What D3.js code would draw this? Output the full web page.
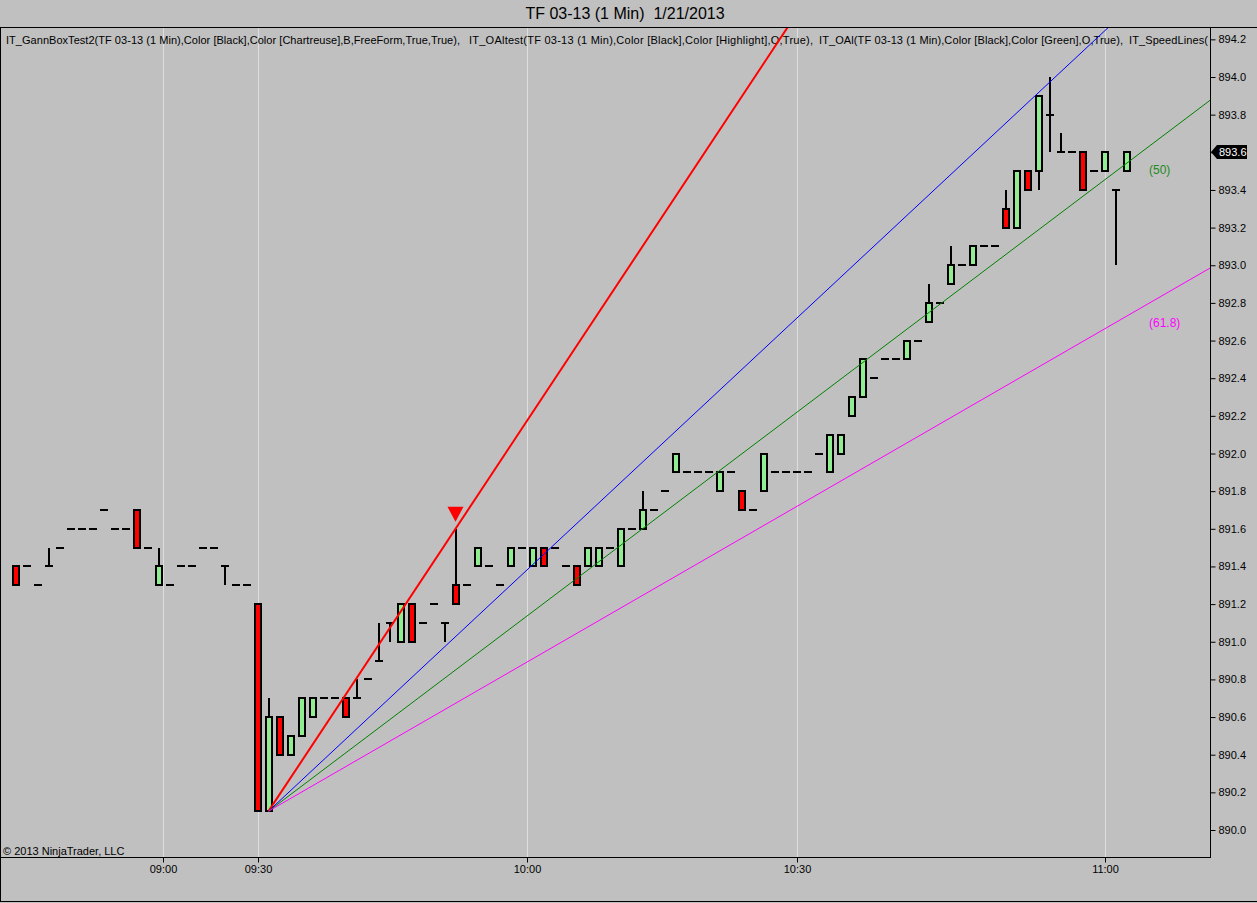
<!DOCTYPE html>
<html><head><meta charset="utf-8">
<script src="https://cdn.jsdelivr.net/npm/d3@7"></script>
<style>
body{margin:0;background:#c0c0c0;}
svg{display:block;font-family:Arial,"Liberation Sans",sans-serif;}
.pre{white-space:pre;}
</style></head><body>
<script>
// ---- data (1-minute bars, TF 03-13, 1/21/2013) ----
const opens  = [891.4,891.4,891.3,891.4,891.5,891.6,891.6,891.6,891.7,891.6,891.6,891.7,891.5,891.3,891.3,891.4,891.4,891.5,891.5,891.4,891.3,891.3,891.2,890.1,890.6,890.4,890.5,890.6,890.7,890.7,890.7,890.7,890.8,890.9,891.1,891.0,891.2,891.1,891.2,891.1,891.3,891.3,891.4,891.4,891.3,891.4,891.5,891.4,891.5,891.5,891.4,891.4,891.4,891.4,891.5,891.4,891.6,891.6,891.7,891.8,891.9,891.9,891.9,891.9,891.8,891.9,891.8,891.7,891.8,891.9,891.9,891.9,891.9,892.0,891.9,892.0,892.2,892.3,892.4,892.5,892.5,892.5,892.6,892.7,892.8,892.9,893.0,893.0,893.1,893.1,893.3,893.2,893.5,893.5,893.8,893.6,893.6,893.6,893.5,893.5,893.4,893.5];
const highs  = [891.4,891.4,891.3,891.5,891.5,891.6,891.6,891.6,891.7,891.6,891.6,891.7,891.5,891.5,891.3,891.4,891.4,891.5,891.5,891.4,891.3,891.3,891.2,890.7,890.6,890.5,890.7,890.7,890.7,890.7,890.7,890.8,890.8,891.1,891.1,891.2,891.2,891.1,891.2,891.1,891.6,891.3,891.5,891.4,891.3,891.5,891.5,891.5,891.5,891.5,891.4,891.4,891.5,891.5,891.5,891.6,891.6,891.8,891.7,891.8,892.0,891.9,891.9,891.9,891.9,891.9,891.8,891.7,892.0,891.9,891.9,891.9,891.9,892.0,892.1,892.1,892.3,892.5,892.4,892.5,892.5,892.6,892.6,892.9,892.8,893.1,893.0,893.1,893.1,893.1,893.4,893.5,893.5,893.9,894.0,893.7,893.6,893.6,893.5,893.6,893.4,893.6];
const lows   = [891.3,891.4,891.3,891.4,891.5,891.6,891.6,891.6,891.7,891.6,891.6,891.5,891.5,891.3,891.3,891.4,891.4,891.5,891.5,891.3,891.3,891.3,890.1,890.1,890.4,890.4,890.5,890.6,890.7,890.7,890.6,890.7,890.8,890.9,891.0,891.0,891.0,891.1,891.2,891.0,891.2,891.3,891.4,891.4,891.3,891.4,891.5,891.4,891.4,891.5,891.4,891.3,891.4,891.4,891.5,891.4,891.6,891.6,891.7,891.8,891.9,891.9,891.9,891.9,891.8,891.9,891.7,891.7,891.8,891.9,891.9,891.9,891.9,892.0,891.9,892.0,892.2,892.3,892.4,892.5,892.5,892.5,892.6,892.7,892.8,892.9,893.0,893.0,893.1,893.1,893.2,893.2,893.4,893.4,893.6,893.6,893.6,893.4,893.5,893.5,893.0,893.5];
const closes = [891.3,891.4,891.3,891.4,891.5,891.6,891.6,891.6,891.7,891.6,891.6,891.5,891.5,891.4,891.3,891.4,891.4,891.5,891.5,891.4,891.3,891.3,890.1,890.6,890.4,890.5,890.7,890.7,890.7,890.7,890.6,890.7,890.8,890.9,891.1,891.2,891.0,891.1,891.2,891.1,891.2,891.3,891.5,891.4,891.3,891.5,891.5,891.5,891.4,891.5,891.4,891.3,891.5,891.5,891.5,891.6,891.6,891.7,891.7,891.8,892.0,891.9,891.9,891.9,891.9,891.9,891.7,891.7,892.0,891.9,891.9,891.9,891.9,892.0,892.1,892.1,892.3,892.5,892.4,892.5,892.5,892.6,892.6,892.8,892.8,893.0,893.0,893.1,893.1,893.1,893.2,893.5,893.4,893.9,893.8,893.6,893.6,893.4,893.5,893.6,893.4,893.6];

const timeLabels = ["09:00","09:30","10:00","10:30","11:00"];
const timeBars   = [13.45, 22, 46.5, 71, 99];
const priceTicks = [890.0,890.2,890.4,890.6,890.8,891.0,891.2,891.4,891.6,891.8,892.0,892.2,892.4,892.6,892.8,893.0,893.2,893.4,893.6,893.8,894.0,894.2];

// speed-line fan: origin at the low, pivot at the signal-bar high
const fanOrigin = {bar: 23, price: 890.1};
const fanPivot  = {bar: 40, price: 891.6};
const fanRatios = [1, 0.618, 0.5, 0.382];
const fanColors = ["#ff0000", "#0000ff", "#008000", "#ff00ff"];
const fanLabels = [null, null, "(50)", "(61.8)"];
const signalBar = 40;

const titleText  = "TF 03-13 (1 Min)  1/21/2013";
const headerParts = [
  "IT_GannBoxTest2(TF 03-13 (1 Min),Color [Black],Color [Chartreuse],B,FreeForm,True,True),",
  "IT_OAltest(TF 03-13 (1 Min),Color [Black],Color [Highlight],O,True),",
  "IT_OAl(TF 03-13 (1 Min),Color [Black],Color [Green],O,True),",
  "IT_SpeedLines("
];
const copyright  = "\u00a9 2013 NinjaTrader, LLC";

// ---- layout ----
const W = 1257, H = 903;
const P = {left: 0, top: 27, right: 1210, bottom: 857};
const headerX = [6, 469, 819, 1129];
const headerW = [454, 344, 304, 79];
const labelOffsets = [0, 0, 32, 26];

const x = d3.scaleLinear().domain([0, 101]).range([15.5, 15.5 + 11 * 101]);
const y = d3.scaleLinear().domain([890, 894]).range([830, 77]);

const svg = d3.select("body").append("svg").attr("width", W).attr("height", H);

svg.append("defs").append("clipPath").attr("id", "plotclip")
  .append("rect").attr("x", P.left).attr("y", P.top)
  .attr("width", P.right - P.left).attr("height", P.bottom - P.top);

// title
svg.append("text").attr("class", "pre").attr("x", 625).attr("y", 13)
  .attr("text-anchor", "middle").attr("dominant-baseline", "central")
  .attr("font-size", 16).attr("fill", "#000").text(titleText);

// vertical grid
svg.append("g").selectAll("line").data(timeBars).join("line")
  .attr("x1", d => Math.round(x(d)) + 0.5).attr("x2", d => Math.round(x(d)) + 0.5)
  .attr("y1", P.top).attr("y2", P.bottom)
  .attr("stroke", "#dedede").attr("stroke-width", 1);

const plot = svg.append("g").attr("clip-path", "url(#plotclip)");

// header text (indicator list)
plot.append("g").selectAll("text").data(headerParts).join("text")
  .attr("x", (d, i) => headerX[i]).attr("y", 40)
  .attr("dominant-baseline", "central").attr("font-size", 11).attr("fill", "#000")
  .attr("textLength", (d, i) => headerW[i]).attr("lengthAdjust", "spacing")
  .text(d => d);

// candles
const bars = d3.range(opens.length).map(i => ({i, o: opens[i], h: highs[i], l: lows[i], c: closes[i]}));
const cg = plot.append("g").attr("shape-rendering", "crispEdges");
cg.selectAll("line.wick").data(bars.filter(d => d.h > d.l)).join("line")
  .attr("class", "wick")
  .attr("x1", d => x(d.i)).attr("x2", d => x(d.i))
  .attr("y1", d => y(d.h)).attr("y2", d => y(d.l))
  .attr("stroke", "#000").attr("stroke-width", 2);
cg.selectAll("line.doji").data(bars.filter(d => d.o === d.c)).join("line")
  .attr("class", "doji")
  .attr("x1", d => x(d.i) - 4).attr("x2", d => x(d.i) + 4)
  .attr("y1", d => y(d.o)).attr("y2", d => y(d.o))
  .attr("stroke", "#000").attr("stroke-width", 2);
cg.selectAll("rect.body").data(bars.filter(d => d.o !== d.c)).join("rect")
  .attr("class", "body")
  .attr("x", d => x(d.i) - 3).attr("width", 6)
  .attr("y", d => y(Math.max(d.o, d.c)))
  .attr("height", d => Math.abs(y(d.o) - y(d.c)))
  .attr("fill", d => d.c > d.o ? "#90ee90" : "#ff0000")
  .attr("stroke", "#000").attr("stroke-width", 2);

// speed lines
const baseSlope = (fanPivot.price - fanOrigin.price) / (fanPivot.bar - fanOrigin.bar);
const endBar = 130;
plot.append("g").selectAll("line").data(fanRatios).join("line")
  .attr("x1", x(fanOrigin.bar)).attr("y1", y(fanOrigin.price))
  .attr("x2", x(endBar))
  .attr("y2", r => y(fanOrigin.price + r * baseSlope * (endBar - fanOrigin.bar)))
  .attr("stroke", (r, i) => fanColors[i])
  .attr("stroke-width", (r, i) => i === 0 ? 2 : 1);

// fan labels
const labelX = 1149;
const labelBar = x.invert(1160);
svg.append("g").selectAll("text").data(fanRatios.map((r, i) => ({r, i})).filter(d => fanLabels[d.i])).join("text")
  .attr("x", labelX)
  .attr("y", d => y(fanOrigin.price + d.r * baseSlope * (labelBar - fanOrigin.bar)) + labelOffsets[d.i])
  .attr("dominant-baseline", "central").attr("font-size", 12)
  .attr("fill", d => d.i === 2 ? "#1f8a1f" : "#ff00ff")
  .text(d => fanLabels[d.i]);

// signal triangle
const tx = x(signalBar), ty = y(highs[signalBar]) - 7;
plot.append("path")
  .attr("d", `M${tx - 8},${ty - 15}L${tx + 8},${ty - 15}L${tx},${ty}Z`)
  .attr("fill", "#ff0000");

// copyright
svg.append("text").attr("x", 3).attr("y", 851).attr("dominant-baseline", "central")
  .attr("font-size", 11).attr("fill", "#000").text(copyright);

// frame
svg.append("rect").attr("x", P.left + 0.5).attr("y", P.top + 0.5)
  .attr("width", P.right - P.left).attr("height", P.bottom - P.top)
  .attr("fill", "none").attr("stroke", "#000");
svg.append("line").attr("x1", 0).attr("x2", W).attr("y1", P.top + 0.5).attr("y2", P.top + 0.5).attr("stroke", "#000");
svg.append("line").attr("x1", 0).attr("x2", W).attr("y1", 901.5).attr("y2", 901.5).attr("stroke", "#000");
svg.append("line").attr("x1", 0.5).attr("x2", 0.5).attr("y1", P.top).attr("y2", 902).attr("stroke", "#000");

// y axis
const yAxis = d3.axisRight(y).tickValues(priceTicks).tickFormat(d3.format(".1f")).tickSize(5).tickPadding(3);
const ya = svg.append("g").attr("transform", `translate(${P.right + 0.5},0)`).call(yAxis);
ya.select(".domain").remove();
ya.selectAll("text").attr("font-size", 11).attr("font-family", "Arial, 'Liberation Sans', sans-serif").attr("fill", "#000");

// x axis
const xAxis = d3.axisBottom(x).tickValues(timeBars).tickFormat((d, i) => timeLabels[i]).tickSize(5).tickPadding(3);
const xa = svg.append("g").attr("transform", `translate(0.5,${P.bottom + 0.5})`).call(xAxis);
xa.select(".domain").remove();
xa.selectAll(".tick").attr("transform", d => `translate(${Math.round(x(d))},0)`);
xa.selectAll("text").attr("font-size", 11).attr("font-family", "Arial, 'Liberation Sans', sans-serif").attr("fill", "#000");

// last price marker
const lastY = Math.round(y(closes[closes.length - 1]));
svg.append("path")
  .attr("d", `M${P.right + 1},${lastY}L${P.right + 7},${lastY - 7}L${P.right + 37},${lastY - 7}L${P.right + 37},${lastY + 7}L${P.right + 7},${lastY + 7}Z`)
  .attr("fill", "#000");
svg.append("text").attr("x", P.right + 9).attr("y", lastY).attr("dominant-baseline", "central")
  .attr("font-size", 11).attr("fill", "#fff").text(d3.format(".1f")(closes[closes.length - 1]));
</script>
</body></html>
